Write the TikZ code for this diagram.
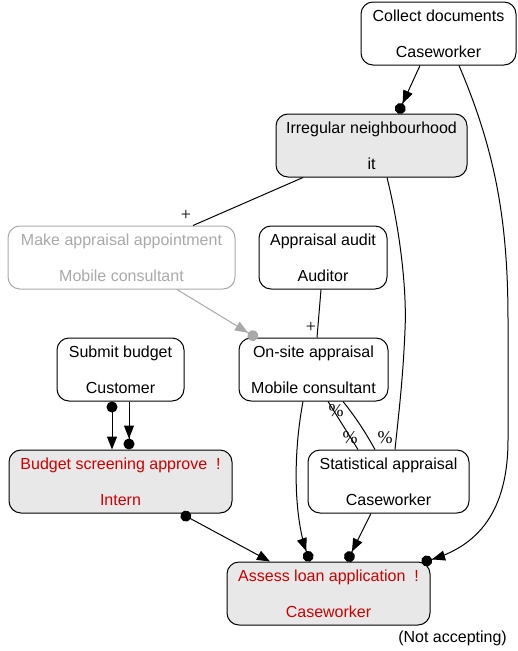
\documentclass[tikz,border=0pt]{standalone}
\usepackage{fontspec}
\setmainfont{Liberation Sans}
\newfontfamily\lblfont{Liberation Serif}
\usetikzlibrary{arrows.meta,calc}
\definecolor{rd}{HTML}{CD0000}
\definecolor{gr}{HTML}{A9A9A9}
\definecolor{fl}{HTML}{E8E8E8}
\begin{document}
\begin{tikzpicture}[x=1pt,y=-1pt,
  box/.style={draw,rounded corners=12pt,minimum height=63pt,inner sep=0pt,align=center,
    font=\fontsize{16}{18}\selectfont,line width=1pt},
  hl/.style={box,fill=fl},
  edge/.style={line width=1pt},
  arr/.style={-{Triangle[length=13pt,width=10pt] Circle[length=11pt]}},
  dotarr/.style={{Circle[length=11pt]}-{Triangle[length=13pt,width=10pt]}},
  lbl/.style={font=\lblfont\fontsize{18}{18}\selectfont,inner sep=0pt}
]
\useasboundingbox (0,0) rectangle (518,651);
\node[box,minimum width=155pt] (col) at (438.5,33.5) {Collect documents\\[18pt]Caseworker};
\node[hl,minimum width=191pt] (irr) at (371.5,145.5) {Irregular neighbourhood\\[18pt]it};
\node[box,minimum width=227pt,draw=gr,text=gr] (mk) at (121.5,257.5) {Make appraisal appointment\\[18pt]Mobile consultant};
\node[box,minimum width=128pt] (aud) at (323,257.5) {Appraisal audit\\[18pt]Auditor};
\node[box,minimum width=127pt] (sub) at (120.5,369.5) {Submit budget\\[18pt]Customer};
\node[box,minimum width=149pt] (ons) at (313.5,369.5) {On-site appraisal\\[18pt]Mobile consultant};
\node[hl,minimum width=223pt,text=rd] (bud) at (120.5,481.5) {Budget screening approve\ \ !\\[18pt]Intern};
\node[box,minimum width=161pt] (sta) at (388.5,481.5) {Statistical appraisal\\[18pt]Caseworker};
\node[hl,minimum width=203pt,text=rd] (ass) at (328.5,593.5) {Assess loan application\ \ !\\[18pt]Caseworker};
\node[anchor=east,inner sep=0pt,font=\fontsize{16}{18}\selectfont] (note) at (507,638) {(Not accepting)};

% edges
\draw[edge,arr] ($(col.south)+(-18.5,0)$) -- ($(irr.north)+(26.5,0)$);
\draw[edge,arr] ($(col.south)+(20.5,0)$) .. controls (495,150) and (508,220) .. (508,320)
   -- (508,440) .. controls (508,520) and (470,548) .. ($(ass.north east)+(-9,1)$);
\draw[edge] ($(irr.south)+(-68.5,0)$) -- ($(mk.north)+(71.5,0)$);
\node[lbl] (l1) at (186,215) {+};
\draw[edge] ($(irr.south)+(15.5,0)$) .. controls (400,230) and (407,290) .. (405,330)
   .. controls (403,380) and (398,420) .. ($(sta.north)+(6.5,0)$);
\node[lbl] (l2) at (385,438) {\%};
\draw[edge,arr,gr] ($(mk.south)+(55.5,0)$) -- ($(ons.north west)+(19,1)$);
\draw[edge] ($(aud.south)+(-2,0)$) -- ($(ons.north)+(3.5,0)$);
\node[lbl] (l3) at (311,327) {+};
\draw[edge,dotarr] ($(sub.south)+(-8.5,0)$) -- ($(bud.north)+(-8.5,0)$);
\draw[edge,arr] ($(sub.south)+(8.5,0)$) -- ($(bud.north)+(8.5,0)$);
\draw[edge] ($(ons.south)+(14.5,0)$) -- ($(sta.north)+(-30.5,0)$);
\node[lbl] (l4) at (336,411) {\%};
\node[lbl] (l5) at (350,438) {\%};
\draw[edge] ($(ons.south)+(29.5,0)$) .. controls (358,420) and (368,437) .. ($(sta.north)+(-13.5,0)$);
\draw[edge,arr] ($(ons.south)+(-10.5,0)$) .. controls (292,460) and (295,520) .. ($(ass.north)+(-18.5,0)$);
\draw[edge,arr] ($(sta.south)+(-17.5,0)$) -- ($(ass.north)+(18.5,0)$);
\draw[edge,dotarr] ($(bud.south)+(60.5,0)$) -- ($(ass.north)+(-58.5,0)$);
\end{tikzpicture}
\end{document}
